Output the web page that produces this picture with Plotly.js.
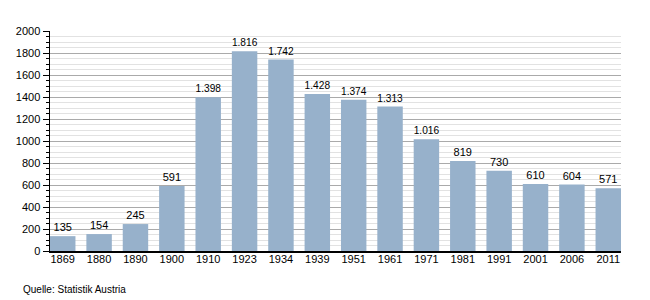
<!DOCTYPE html>
<html><head><meta charset="utf-8">
<script src="https://cdn.plot.ly/plotly-3.0.1.min.js"></script>
<style>body{margin:0;padding:0;background:#fff}</style>
</head><body>
<div id="chart" style="width:650px;height:300px"></div>
<script>
const years = ["1869","1880","1890","1900","1910","1923","1934","1939","1951","1961","1971","1981","1991","2001","2006","2011"];
const values = [135,154,245,591,1398,1816,1742,1428,1374,1313,1016,819,730,610,604,571];
const labels = ["135","154","245","591","1.398","1.816","1.742","1.428","1.374","1.313","1.016","819","730","610","604","571"];

Plotly.newPlot("chart", [{
  type: "bar",
  x: years,
  y: values,
  text: labels,
  textposition: "outside",
  cliponaxis: false,
  textfont: {family: "Liberation Sans, Arial, sans-serif", size: 11, color: "#000"},
  marker: {color: "#97b1cb", line: {width: 0}},
  width: 0.70,
  hoverinfo: "none"
}], {
  width: 650, height: 300,
  margin: {l: 50, r: 29, t: 31, b: 49},
  paper_bgcolor: "#fff", plot_bgcolor: "#fff",
  showlegend: false,
  font: {family: "Liberation Sans, Arial, sans-serif", size: 11, color: "#000"},
  xaxis: {
    type: "category",
    range: [-0.35, 15.35],
    showline: true, linecolor: "#000", linewidth: 1.5,
    ticks: "", showgrid: false, zeroline: false,
    ticklabelstandoff: -3,
    tickfont: {size: 11}
  },
  yaxis: {
    range: [0, 2000], dtick: 200,
    showline: true, linecolor: "#000", linewidth: 1.5,
    ticks: "outside", ticklen: 6, tickcolor: "#000",
    showgrid: true, gridcolor: "#aaaaaa", gridwidth: 1,
    zeroline: false,
    tickfont: {size: 11},
    minor: {dtick: 50, showgrid: true, gridcolor: "#e2e2e2", gridwidth: 1, ticks: "outside", ticklen: 3, tickcolor: "#000"}
  },
  annotations: [{
    text: "Quelle: Statistik Austria", xref: "paper", yref: "paper",
    x: -0.05, y: -0.14, xanchor: "left", yanchor: "top", showarrow: false,
    font: {size: 10, color: "#000"}
  }]
}, {displayModeBar: false, staticPlot: true});
</script>
</body></html>
